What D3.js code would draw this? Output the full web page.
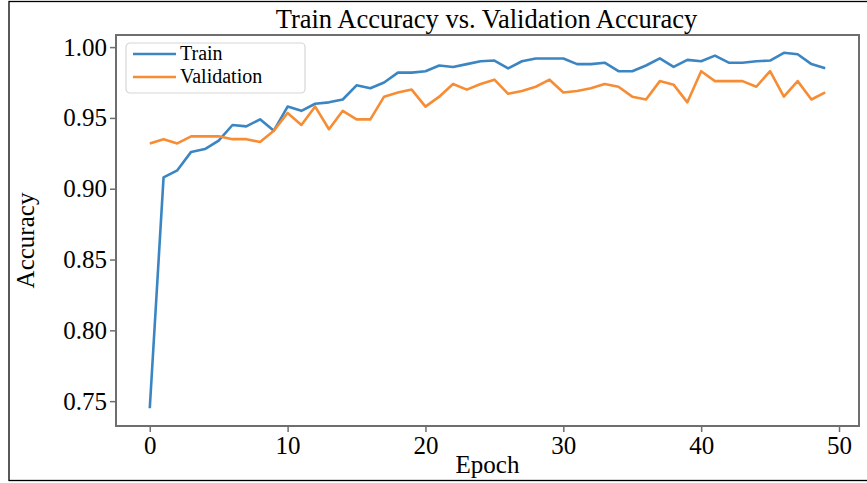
<!DOCTYPE html>
<html>
<head>
<meta charset="utf-8">
<script src="https://cdn.jsdelivr.net/npm/d3@7/dist/d3.min.js"></script>
<style>
  html, body { margin: 0; padding: 0; background: #fff; }
  svg { display: block; font-family: "Liberation Serif", "Times New Roman", serif; }
</style>
</head>
<body>
<svg id="chart" width="867" height="483"></svg>
<script>
// ---- data ----
const epochs = d3.range(0, 50);
const trainAcc = [
  0.745, 0.908, 0.913, 0.926, 0.928, 0.934, 0.945, 0.944, 0.949, 0.941,
  0.958, 0.955, 0.960, 0.961, 0.963, 0.973, 0.971, 0.975, 0.982, 0.982,
  0.983, 0.987, 0.986, 0.988, 0.990, 0.9905, 0.985, 0.990, 0.992, 0.992,
  0.992, 0.988, 0.988, 0.989, 0.983, 0.983, 0.987, 0.992, 0.986, 0.991,
  0.990, 0.994, 0.989, 0.989, 0.990, 0.9905, 0.996, 0.995, 0.988, 0.985
];
const valAcc = [
  0.932, 0.935, 0.932, 0.937, 0.937, 0.937, 0.935, 0.935, 0.933, 0.941,
  0.9535, 0.945, 0.958, 0.942, 0.955, 0.949, 0.949, 0.965, 0.968, 0.970,
  0.958, 0.965, 0.974, 0.970, 0.974, 0.977, 0.967, 0.969, 0.972, 0.977,
  0.968, 0.969, 0.971, 0.974, 0.972, 0.965, 0.963, 0.976, 0.9735, 0.961,
  0.983, 0.976, 0.976, 0.976, 0.972, 0.983, 0.965, 0.976, 0.963, 0.968
];
const xTicks = [0, 10, 20, 30, 40, 50];
const yTicks = [0.75, 0.80, 0.85, 0.90, 0.95, 1.00];
const seriesNames = ['Train', 'Validation'];
const seriesColors = ['#3a86c2', '#f68d35'];

// ---- layout ----
const W = 867, H = 483;
const plot = { left: 116, right: 859, top: 35, bottom: 426 };

const svg = d3.select('#chart');

// slight blur to mimic the soft look of the source image
const defs = svg.append('defs');
defs.append('filter').attr('id', 'soft')
  .attr('filterUnits', 'userSpaceOnUse')
  .attr('x', 0).attr('y', 0).attr('width', W).attr('height', H)
  .append('feGaussianBlur').attr('stdDeviation', 0.5);

// outer frame (right edge falls outside the picture)
svg.append('rect')
  .attr('x', 9).attr('y', 1.5)
  .attr('width', 870).attr('height', 479)
  .attr('fill', 'none').attr('stroke', '#000').attr('stroke-width', 1.3);

// matplotlib-style margins (5% of data range)
const xMin = d3.min(epochs), xMax = d3.max(epochs);
const xPad = (xMax - xMin) * 0.05;
const allY = trainAcc.concat(valAcc);
const yMin = d3.min(allY), yMax = d3.max(allY);
const yPad = (yMax - yMin) * 0.05;

const x = d3.scaleLinear()
  .domain([xMin - xPad, xMax + xPad])
  .range([plot.left, plot.right]);
const y = d3.scaleLinear()
  .domain([yMin - yPad, yMax + yPad])
  .range([plot.bottom, plot.top]);

// ---- lines ----
const line = d3.line()
  .x((d, i) => x(epochs[i]))
  .y(d => y(d));

[trainAcc, valAcc].forEach((vals, k) => {
  svg.append('path')
    .datum(vals)
    .attr('fill', 'none')
    .attr('stroke', seriesColors[k])
    .attr('stroke-width', 2.6)
    .attr('stroke-linejoin', 'round')
    .attr('filter', 'url(#soft)')
    .attr('d', line);
});

// ---- spines ----
svg.append('rect')
  .attr('x', plot.left).attr('y', plot.top)
  .attr('width', plot.right - plot.left)
  .attr('height', plot.bottom - plot.top)
  .attr('fill', 'none')
  .attr('stroke', '#6e6e6e')
  .attr('stroke-width', 2)
  .attr('filter', 'url(#soft)');

// ---- axes ----
const xAxis = d3.axisBottom(x)
  .tickValues(xTicks)
  .tickFormat(d3.format('d'))
  .tickSize(6)
  .tickPadding(4);

svg.append('g')
  .attr('transform', `translate(0,${plot.bottom})`)
  .call(xAxis)
  .call(g => g.select('.domain').remove())
  .call(g => g.selectAll('line').attr('stroke', '#6e6e6e').attr('stroke-width', 1.5))
  .call(g => g.selectAll('text')
    .attr('fill', '#000')
    .attr('font-size', '25px')
    .attr('font-family', '"Liberation Serif", serif'));

const yAxis = d3.axisLeft(y)
  .tickValues(yTicks)
  .tickFormat(d3.format('.2f'))
  .tickSize(6)
  .tickPadding(3);

svg.append('g')
  .attr('transform', `translate(${plot.left},0)`)
  .call(yAxis)
  .call(g => g.select('.domain').remove())
  .call(g => g.selectAll('line').attr('stroke', '#6e6e6e').attr('stroke-width', 1.5))
  .call(g => g.selectAll('text')
    .attr('fill', '#000')
    .attr('font-size', '25px')
    .attr('font-family', '"Liberation Serif", serif'));

// ---- titles ----
svg.append('text')
  .attr('x', (plot.left + plot.right) / 2 - 1)
  .attr('y', 28)
  .attr('text-anchor', 'middle')
  .attr('font-size', '26.5px')
  .text('Train Accuracy vs. Validation Accuracy');

svg.append('text')
  .attr('x', (plot.left + plot.right) / 2)
  .attr('y', 473)
  .attr('text-anchor', 'middle')
  .attr('font-size', '25px')
  .text('Epoch');

svg.append('text')
  .attr('transform', `translate(34,${(plot.top + plot.bottom) / 2 + 10}) rotate(-90)`)
  .attr('text-anchor', 'middle')
  .attr('font-size', '25px')
  .text('Accuracy');

// ---- legend ----
const lg = svg.append('g').attr('transform', 'translate(126,43)');
lg.append('rect')
  .attr('width', 179).attr('height', 50)
  .attr('rx', 4)
  .attr('fill', '#fff').attr('fill-opacity', 0.85)
  .attr('stroke', '#d6d6d6').attr('stroke-width', 1.2);

seriesNames.forEach((name, k) => {
  const cy = 11 + k * 23;
  lg.append('line')
    .attr('x1', 7).attr('x2', 50)
    .attr('y1', cy).attr('y2', cy)
    .attr('stroke', seriesColors[k])
    .attr('stroke-width', 2.6)
    .attr('filter', 'url(#soft)');
  lg.append('text')
    .attr('x', 54).attr('y', cy + 6)
    .attr('font-size', '20px')
    .text(name);
});
</script>
</body>
</html>
